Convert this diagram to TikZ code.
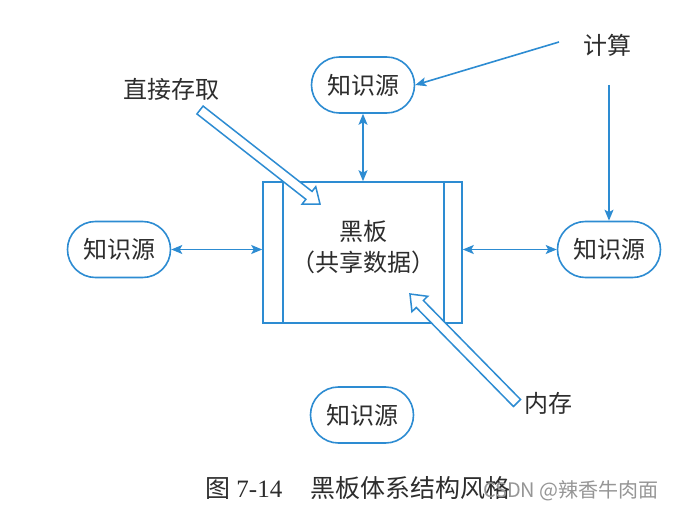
\documentclass[tikz,border=0pt]{standalone}
\usepackage{fontspec}
\setmainfont{Liberation Serif}
\newfontfamily\cjk{Noto Sans CJK SC}
\usetikzlibrary{arrows.meta,calc}
\definecolor{lineblue}{RGB}{45,140,210}
\definecolor{txt}{RGB}{45,45,45}
\definecolor{wmgray}{RGB}{150,150,150}
\newcommand{\hollowarrow}[2]{%
  \coordinate (#2h) at ($(#2)!14pt!(#1)$);
  \draw[hollowarr] ($(#1)!5pt!90:(#2)$) -- ($(#2h)!5pt!90:(#2)$) -- ($(#2h)!11pt!90:(#2)$) -- (#2) -- ($(#2h)!11pt!-90:(#2)$) -- ($(#2h)!5pt!-90:(#2)$) -- ($(#1)!5pt!-90:(#2)$) -- cycle;}
\begin{document}
\begin{tikzpicture}[x=1pt,y=-1pt,
  ks/.style={draw=lineblue, line width=1.6pt, rounded corners=27.9pt, minimum width=103pt, minimum height=56pt, inner sep=0pt, font=\cjk\fontsize{24}{28}\selectfont, text=txt},
  lbl/.style={font=\cjk\fontsize{24}{28}\selectfont, text=txt, inner sep=0pt},
  board/.style={draw=lineblue, line width=1.6pt, minimum width=199pt, minimum height=141pt, inner sep=0pt},
  dbl/.style={{Stealth[length=11pt,width=9pt,inset=2.5pt]}-{Stealth[length=11pt,width=9pt,inset=2.5pt]}, draw=lineblue, line width=1.6pt},
  one/.style={-{Stealth[length=11pt,width=9pt,inset=2.5pt]}, draw=lineblue, line width=1.6pt},
  hollowarr/.style={draw=lineblue, fill=white, line width=1.5pt, line join=miter},
  inner/.style={draw=lineblue, line width=1.6pt}
]
\useasboundingbox[fill=white] (0,0) rectangle (675,511);

% blackboard
\node[board] (board) at (362.5,252.5) {};
\draw[inner] ([xshift=21pt]board.north west) -- ([xshift=21pt]board.south west);
\draw[inner] ([xshift=-19pt]board.north east) -- ([xshift=-19pt]board.south east);
\node[lbl, align=center, font=\cjk\fontsize{24}{31}\selectfont] (bbtext) at (363,247) {黑板\\（共享数据）};

% knowledge sources
\node[ks] (kstop) at (363,85) {知识源};
\node[ks] (ksleft) at (119,249.5) {知识源};
\node[ks] (ksright) at (609,249.5) {知识源};
\node[ks] (ksbottom) at (362,415) {知识源};

% labels
\node[lbl] (direct) at (171,89) {直接存取};
\node[lbl] (compute) at (607,45) {计算};
\node[lbl] (memory) at (548,403.5) {内存};

% connectors
\draw[dbl] (kstop.south) -- (kstop.south |- board.north);
\draw[dbl] (ksleft.east) -- (ksleft.east -| board.west);
\draw[dbl] (ksright.west -| board.east) -- (ksright.west);

\coordinate (c1) at (559,42);
\coordinate (c2) at (609,85);
\draw[one] (c1) -- (kstop.east);
\draw[one] (c2) -- (ksright.north);

% hollow arrows
\coordinate (datail) at (200,110);
\coordinate (datip) at (320,204);
\hollowarrow{datail}{datip}
\coordinate (mmtail) at (517,403);
\coordinate (mmtip) at (410,294);
\hollowarrow{mmtail}{mmtip}

% caption
\node[anchor=west, inner sep=0pt, text=txt, font=\fontsize{25}{30}\selectfont] (caption) at (205,488) {{\cjk 图} 7-14\hspace{28pt}{\cjk 黑板体系结构风格}};
\node[anchor=east, inner sep=0pt, text=wmgray, font=\cjk\fontsize{20}{24}\selectfont] (csdn) at (659,491) {CSDN @辣香牛肉面};
\end{tikzpicture}
\end{document}
